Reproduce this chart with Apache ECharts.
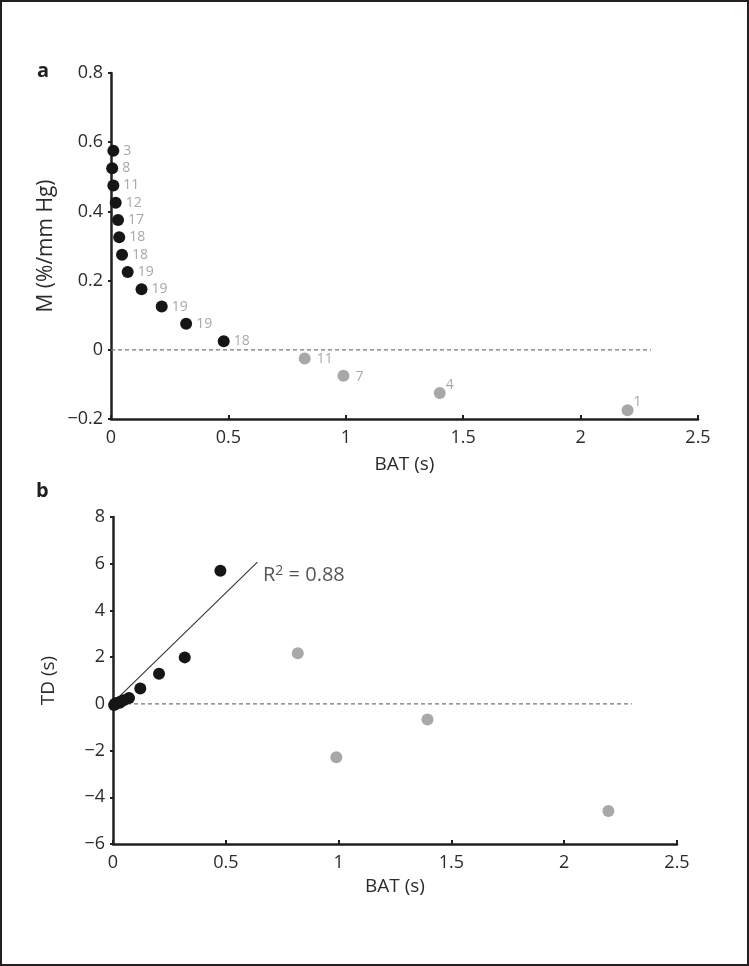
<!DOCTYPE html>
<html>
<head>
<meta charset="utf-8">
<script src="https://cdn.jsdelivr.net/npm/echarts@6/dist/echarts.min.js"></script>
<style>
html,body{margin:0;padding:0;background:#fff;}
#c{width:749px;height:966px;}
</style>
</head>
<body>
<div id="c"></div>
<script>
// ---- data ----
// Panel a: BAT (s) vs M (%/mm Hg)
const aBlackBAT = [0.010, 0.005, 0.010, 0.020, 0.030, 0.035, 0.047, 0.071, 0.130, 0.216, 0.320, 0.480];
const aBlackM   = [0.575, 0.525, 0.475, 0.425, 0.375, 0.325, 0.275, 0.225, 0.175, 0.125, 0.075, 0.025];
const aBlackN   = [3, 8, 11, 12, 17, 18, 18, 19, 19, 19, 19, 18];
const aGreyBAT  = [0.825, 0.990, 1.400, 2.200];
const aGreyM    = [-0.025, -0.075, -0.125, -0.175];
const aGreyN    = [11, 7, 4, 1];
// Panel b: BAT (s) vs TD (s)
const bBlackBAT = [0.010, 0.005, 0.010, 0.020, 0.030, 0.035, 0.047, 0.071, 0.121, 0.204, 0.318, 0.476];
const bBlackTD  = [0.00, -0.05, 0.00, 0.05, 0.05, 0.10, 0.15, 0.25, 0.66, 1.29, 1.99, 5.70];
const bGreyBAT  = [0.819, 0.990, 1.394, 2.196];
const bGreyTD   = [2.17, -2.29, -0.67, -4.59];
// regression line (R^2 = 0.88)
const regBAT = [0.005, 0.640];
const regTD  = [0.10, 6.07];
const r2Pos  = [0.665, 5.5];
// zero reference lines
const zeroBAT = [0, 2.3];
// ticks
const xTicks = [0, 0.5, 1, 1.5, 2, 2.5];
const aYTicks = [-0.2, 0, 0.2, 0.4, 0.6, 0.8];
const bYTicks = [-6, -4, -2, 0, 2, 4, 6, 8];

const zip = (xs, ys) => xs.map((x, i) => [x, ys[i]]);
const FONT = '"Open Sans", "Noto Sans", sans-serif';
const AX = '#231f20';
const TXT = '#2b2b2b';
const GREY = '#a8a8a8';
const BLACK = '#161616';
const fmt = v => String(v).replace('-', '\u2212');

function xAxis(gi) {
  return {
    type: 'value', gridIndex: gi, min: xTicks[0], max: xTicks[xTicks.length - 1], interval: 0.5,
    name: 'BAT (s)', nameLocation: 'middle', nameGap: gi === 0 ? 36 : 33,
    nameTextStyle: { fontFamily: FONT, fontSize: 19, color: TXT },
    axisLine: { onZero: false, lineStyle: { color: AX, width: 2.5 } },
    axisTick: { inside: true, length: 4, lineStyle: { color: AX, width: 2 } },
    axisLabel: { fontFamily: FONT, fontSize: 18, color: TXT, margin: 10, formatter: fmt },
    splitLine: { show: false }
  };
}
function yAxis(gi, ticks, interval, name) {
  return {
    type: 'value', gridIndex: gi, min: ticks[0], max: ticks[ticks.length - 1], interval: interval,
    name: name, nameLocation: 'middle', nameGap: gi === 0 ? 53 : 55,
    nameTextStyle: { fontFamily: FONT, fontSize: gi === 0 ? 21 : 19, color: TXT },
    axisLine: { onZero: false, lineStyle: { color: AX, width: 2.5 } },
    axisTick: { length: 3, lineStyle: { color: AX, width: 2 } },
    axisLabel: { fontFamily: FONT, fontSize: 18, color: TXT, margin: 8, formatter: fmt },
    splitLine: { show: false }
  };
}

const labelStyle = { show: true, fontFamily: FONT, fontSize: 14, color: GREY };

const chart = echarts.init(document.getElementById('c'), null, { renderer: 'canvas' });
chart.setOption({
  animation: false,
  backgroundColor: '#fff',
  grid: [
    { left: 111, right: 51, top: 73, height: 346 },
    { left: 113, right: 72, top: 517, height: 327 }
  ],
  xAxis: [xAxis(0), xAxis(1)],
  yAxis: [yAxis(0, aYTicks, 0.2, 'M (%/mm Hg)'), yAxis(1, bYTicks, 2, 'TD (s)')],
  graphic: [
    { type: 'rect', shape: { x: 1, y: 1, width: 747, height: 964 }, style: { fill: 'none', stroke: AX, lineWidth: 2 }, silent: true },
    { type: 'text', left: 37, top: 61, style: { text: 'a', font: 'bold 20px ' + FONT, fill: AX } },
    { type: 'text', left: 36, top: 481, style: { text: 'b', font: 'bold 20px ' + FONT, fill: AX } }
  ],
  series: [
    { type: 'line', xAxisIndex: 0, yAxisIndex: 0, data: zip(zeroBAT, [0, 0]), symbol: 'none', silent: true,
      lineStyle: { color: '#777', width: 1.3, type: [4, 3] }, z: 1 },
    { type: 'scatter', xAxisIndex: 0, yAxisIndex: 0, symbolSize: 12, itemStyle: { color: BLACK, opacity: 1 },
      data: aBlackBAT.map((x, i) => ({ value: [x, aBlackM[i]], n: aBlackN[i] })),
      label: Object.assign({}, labelStyle, { position: 'right', distance: 4, formatter: p => p.data.n }), z: 3 },
    { type: 'scatter', xAxisIndex: 0, yAxisIndex: 0, symbolSize: 12, itemStyle: { color: GREY, opacity: 1 },
      data: aGreyBAT.map((x, i) => ({ value: [x, aGreyM[i]], n: aGreyN[i],
        label: i >= 2 ? { position: 'right', distance: 0, offset: [0, -8] } : { position: 'right', distance: 6, offset: [0, 1] } })),
      label: Object.assign({}, labelStyle, { formatter: p => p.data.n }), z: 3 },

    { type: 'line', xAxisIndex: 1, yAxisIndex: 1, data: zip(zeroBAT, [0, 0]), symbol: 'none', silent: true,
      lineStyle: { color: '#777', width: 1.3, type: [4, 3] }, z: 1 },
    { type: 'line', xAxisIndex: 1, yAxisIndex: 1, data: zip(regBAT, regTD), symbol: 'none', silent: true,
      lineStyle: { color: '#333', width: 1.1 }, z: 2 },
    { type: 'scatter', xAxisIndex: 1, yAxisIndex: 1, symbolSize: 12, itemStyle: { color: BLACK, opacity: 1 },
      data: zip(bBlackBAT, bBlackTD), z: 3 },
    { type: 'scatter', xAxisIndex: 1, yAxisIndex: 1, symbolSize: 12, itemStyle: { color: GREY, opacity: 1 },
      data: zip(bGreyBAT, bGreyTD), z: 3 },
    { type: 'scatter', xAxisIndex: 1, yAxisIndex: 1, symbolSize: 0, silent: true,
      data: [r2Pos],
      label: { show: true, position: 'right', distance: 0,
        formatter: '{a|R}{s|2}{a| = 0.88}',
        rich: {
          a: { fontFamily: FONT, fontSize: 20, color: TXT },
          s: { fontFamily: FONT, fontSize: 14, color: TXT, verticalAlign: 'top', padding: [0, 0, 8, 0] }
        } }, z: 4 }
  ]
});
</script>
</body>
</html>
